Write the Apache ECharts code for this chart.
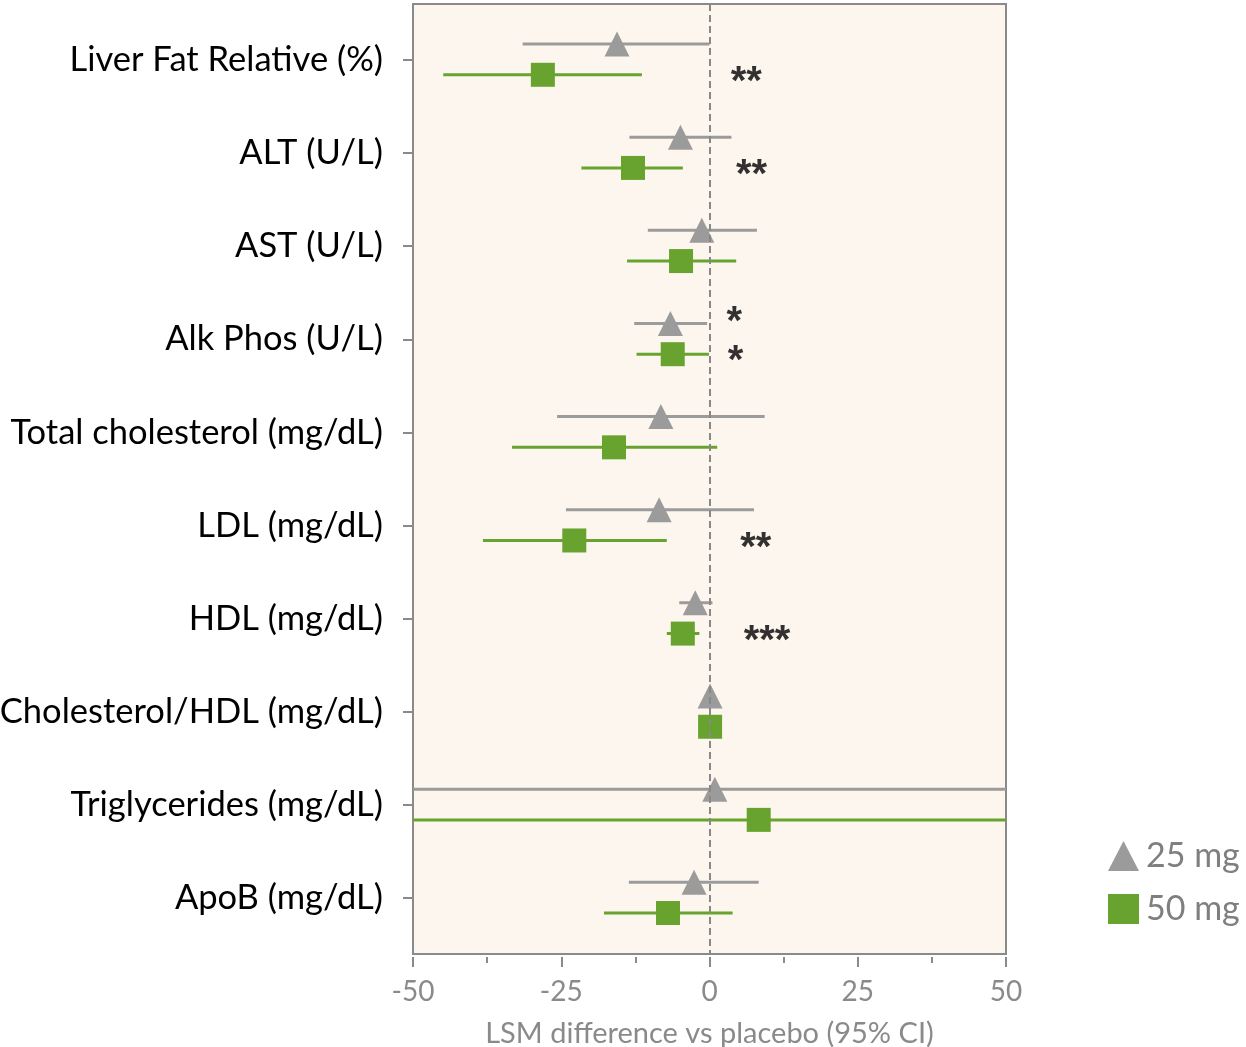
<!DOCTYPE html>
<html>
<head>
<meta charset="utf-8">
<script src="https://cdn.jsdelivr.net/npm/echarts@6/dist/echarts.min.js"></script>
<style>
html,body{margin:0;padding:0;background:#ffffff;}
#chart{width:1246px;height:1047px;}
</style>
</head>
<body>
<div id="chart"></div>
<script>
// ---- data ----
const categories = ['Liver Fat Relative (%)','ALT (U/L)','AST (U/L)','Alk Phos (U/L)','Total cholesterol (mg/dL)','LDL (mg/dL)','HDL (mg/dL)','Cholesterol/HDL (mg/dL)','Triglycerides (mg/dL)','ApoB (mg/dL)'];
const est25 = [-15.6, -4.9, -1.3, -6.6, -8.2, -8.5, -2.4, 0.1, 0.9, -2.6];
const lo25  = [-31.5, -13.5, -10.4, -12.7, -25.7, -24.2, -5.1, -0.3, -62, -13.6];
const hi25  = [0.0, 3.7, 8.0, -0.4, 9.3, 7.5, 0.5, 0.5, 64, 8.3];
const est50 = [-28.1, -12.9, -4.8, -6.2, -16.1, -22.8, -4.5, 0.1, 8.3, -7.0];
const lo50  = [-44.9, -21.6, -13.9, -12.3, -33.3, -38.2, -7.2, -0.3, -70, -17.8];
const hi50  = [-11.4, -4.5, 4.5, -0.1, 1.3, -7.2, -1.7, 0.5, 86, 3.9];
// significance annotations
const sigRow  = [0, 1, 3, 3, 5, 6];
const sigDose = ['50 mg', '50 mg', '25 mg', '50 mg', '50 mg', '50 mg'];
const sigText = ['**', '**', '*', '*', '**', '***'];
const sigX    = [6.2, 7.1, 4.2, 4.4, 7.8, 9.7];
const xTicks  = [-50, -25, 0, 25, 50];

// ---- styles ----
const GREY = '#9b9b9b';
const GREEN = '#67a32e';
const AXIS = '#8a8a8a';
const FONT = 'Lato, "Liberation Sans", sans-serif';
const OFF25 = -0.17, OFF50 = 0.16;
const XMIN = -50, XMAX = 50;

function barData(lo, hi, off) {
  return lo.map((l, i) => [Math.max(l, XMIN), Math.min(hi[i], XMAX), i + off]);
}
function pointData(est, off) {
  return est.map((v, i) => [v, i + off]);
}
function makeBar(color) {
  return function (params, api) {
    const y = api.value(2);
    const p1 = api.coord([api.value(0), y]);
    const p2 = api.coord([api.value(1), y]);
    return {
      type: 'line',
      shape: { x1: p1[0], y1: p1[1], x2: p2[0], y2: p2[1] },
      style: { stroke: color, lineWidth: 3 }
    };
  };
}
const sigData = sigText.map((t, k) => ({
  value: [sigX[k], sigRow[k] + (sigDose[k] === '25 mg' ? -0.26 : OFF50)],
  name: t
}));

const chart = echarts.init(document.getElementById('chart'), null, { renderer: 'canvas' });
chart.setOption({
  animation: false,
  backgroundColor: '#ffffff',
  textStyle: { fontFamily: FONT },
  grid: {
    left: 413, right: 240, top: 4, bottom: 93,
    outerBoundsMode: 'none', containLabel: false,
    show: true, backgroundColor: '#fdf6ef', borderColor: AXIS, borderWidth: 2
  },
  legend: {
    data: [
      { name: '25 mg', icon: 'triangle' },
      { name: '50 mg', icon: 'rect' }
    ],
    orient: 'vertical',
    left: 1103, top: 834,
    itemWidth: 31, itemHeight: 30, itemGap: 19,
    textStyle: { color: '#7f7f7f', fontSize: 34, fontFamily: FONT, padding: [0, 0, 0, 2] }
  },
  xAxis: {
    type: 'value', min: XMIN, max: XMAX, interval: 25,
    position: 'bottom', offset: 3,
    axisLine: { show: false, onZero: false },
    axisTick: { show: true, length: 10, lineStyle: { color: AXIS, width: 2 } },
    minorTick: { show: true, splitNumber: 2, length: 6, lineStyle: { color: AXIS, width: 2 } },
    splitLine: { show: false },
    axisLabel: { color: '#8a8a8a', fontSize: 28, margin: 21, fontFamily: FONT,
      formatter: v => xTicks.includes(v) ? String(v) : '' },
    name: 'LSM difference vs placebo (95% CI)',
    nameLocation: 'middle', nameGap: 62,
    nameTextStyle: { color: '#8a8a8a', fontSize: 29, fontFamily: FONT }
  },
  yAxis: {
    type: 'value', inverse: true, min: -0.6, max: 9.6,
    position: 'left',
    axisLine: { show: false, onZero: false },
    splitLine: { show: false },
    axisTick: { show: true, length: 10, customValues: categories.map((c, i) => i),
      lineStyle: { color: AXIS, width: 2 } },
    axisLabel: { color: '#000', fontSize: 34.5, margin: 30, fontFamily: FONT,
      customValues: categories.map((c, i) => i),
      formatter: v => categories[Math.round(v)] || '' }
  },
  series: [
    {
      type: 'custom', name: 'ci25', z: 2, silent: true,
      renderItem: makeBar(GREY),
      encode: { x: [0, 1], y: 2 },
      data: barData(lo25, hi25, OFF25)
    },
    {
      type: 'custom', name: 'ci50', z: 2, silent: true,
      renderItem: makeBar(GREEN),
      encode: { x: [0, 1], y: 2 },
      data: barData(lo50, hi50, OFF50)
    },
    {
      type: 'scatter', name: '25 mg', z: 4,
      symbol: 'triangle', symbolSize: [25, 25],
      itemStyle: { color: GREY, opacity: 1 },
      data: pointData(est25, OFF25),
      markLine: {
        silent: true, symbol: 'none', label: { show: false },
        lineStyle: { color: '#888', width: 2, type: [7, 4] },
        data: [{ xAxis: 0 }]
      }
    },
    {
      type: 'scatter', name: '50 mg', z: 4,
      symbol: 'rect', symbolSize: [24, 24],
      itemStyle: { color: GREEN, opacity: 1 },
      data: pointData(est50, OFF50)
    },
    {
      type: 'scatter', name: 'sig', z: 5, silent: true,
      symbolSize: 0,
      data: sigData,
      label: {
        show: true, position: 'inside', offset: [0, 8],
        formatter: p => p.name,
        color: '#000', fontSize: 40, fontWeight: 'bold', fontFamily: '"Liberation Sans", sans-serif'
      }
    }
  ]
});
</script>
</body>
</html>
